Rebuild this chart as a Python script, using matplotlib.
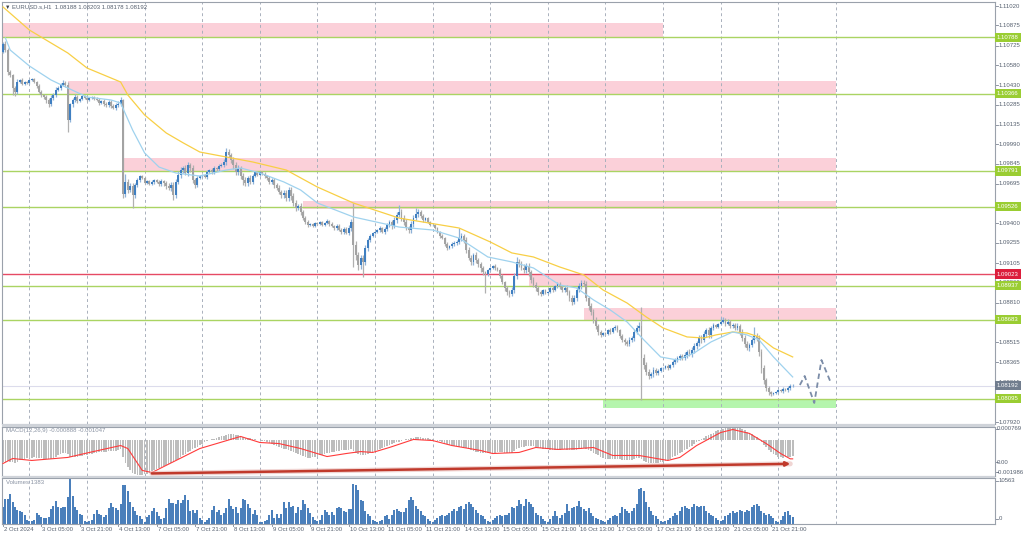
import matplotlib.pyplot as plt
from matplotlib.patches import Rectangle

plt.rcParams['font.family'] = ['Liberation Sans', 'DejaVu Sans']

# EURUSD.s H1, 2 Oct 13:00 .. 22 Oct 06:00 (330 bars)
# prices are given in points (1e-5) above 1.08000
open_first = 2677
close_pts = [
    2737, 2692, 2528, 2506, 2409, 2379, 2454, 2469, 2439, 2454, 2447,
    2469, 2476, 2454, 2424, 2379, 2357, 2342, 2320, 2290, 2335, 2357, 2394, 2409, 2431, 2446, 2431, 2171, 2290, 2320, 2342, 2312, 2327, 2349, 2335,
    2320, 2335, 2342, 2327, 2320, 2298, 2312, 2290, 2283, 2305, 2275, 2260, 2283, 2290, 2320, 1620, 1709, 1649, 1679, 1612, 1687, 1724, 1754, 1739,
    1701, 1716, 1694, 1709, 1724, 1709, 1694, 1716, 1701, 1679, 1664, 1687, 1612, 1709, 1761, 1798, 1813, 1776, 1836, 1813, 1724, 1687, 1739, 1754,
    1761, 1746, 1783, 1798, 1783, 1813, 1806, 1828, 1836, 1858, 1932, 1910, 1873, 1836, 1783, 1813, 1754, 1724, 1701, 1739, 1709, 1754, 1783, 1761,
    1783, 1768, 1754, 1739, 1709, 1724, 1687, 1664, 1634, 1612, 1627, 1590, 1649, 1605, 1552, 1515, 1530, 1485, 1441, 1411, 1388, 1396, 1381, 1403,
    1396, 1411, 1388, 1403, 1418, 1396, 1381, 1366, 1381, 1351, 1336, 1358, 1329, 1366, 1411, 1239, 1165, 1090, 1142, 1112, 1217, 1277, 1306, 1329,
    1336, 1351, 1366, 1336, 1358, 1388, 1411, 1381, 1426, 1463, 1485, 1441, 1411, 1366, 1351, 1396, 1441, 1470, 1485, 1456, 1426, 1441, 1411, 1388,
    1388, 1366, 1336, 1306, 1291, 1247, 1217, 1232, 1247, 1254, 1262, 1291, 1306, 1277, 1202, 1142, 1112, 1165, 1127, 1098, 1068, 1038, 1023, 1053,
    1068, 1083, 1068, 1053, 1008, 963, 919, 889, 874, 904, 1008, 1112, 1098, 1068, 1053, 1083, 1038, 978, 941, 919, 889, 874, 904, 882,
    889, 919, 904, 934, 949, 926, 904, 919, 889, 844, 814, 844, 904, 934, 956, 949, 844, 784, 740, 680, 635, 591, 568, 583,
    576, 606, 591, 621, 628, 606, 561, 531, 516, 501, 531, 546, 591, 621, 635, 397, 345, 293, 263, 278, 308, 286, 300, 323,
    323, 338, 323, 345, 367, 382, 397, 412, 397, 420, 442, 427, 457, 487, 509, 546, 531, 576, 606, 568, 621, 643, 628, 650,
    665, 680, 650, 665, 635, 643, 621, 635, 591, 546, 501, 472, 494, 531, 561, 546, 442, 323, 233, 174, 144, 129, 137, 144,
    159, 151, 166, 159, 174, 188, 192,
]
wick_up = [
    15, 20, 12, 18, 10, 15, 22, 10, 12, 8, 6,
    6, 8, 10, 8, 12, 15, 10, 12, 18, 25, 15, 20, 18, 12, 22, 15, 20, 10, 15, 20, 12, 10, 8, 6,
    6, 8, 10, 8, 12, 15, 10, 12, 15, 18, 12, 15, 12, 20, 25, 10, 60, 20, 25, 20, 15, 12, 10, 8,
    6, 8, 10, 12, 10, 8, 12, 15, 10, 15, 20, 18, 25, 20, 30, 25, 15, 20, 25, 15, 20, 15, 12, 8,
    8, 10, 12, 10, 15, 12, 10, 15, 12, 20, 30, 25, 15, 20, 25, 20, 15, 20, 25, 15, 20, 15, 10, 8,
    8, 10, 12, 10, 15, 12, 15, 12, 20, 15, 20, 25, 23, 20, 25, 20, 15, 20, 18, 15, 12, 10, 8, 6,
    6, 8, 10, 8, 12, 10, 12, 10, 12, 15, 12, 15, 12, 20, 25, 140, 30, 25, 20, 25, 20, 15, 12, 10,
    8, 10, 12, 10, 15, 12, 15, 12, 20, 25, 50, 20, 25, 20, 15, 20, 25, 45, 20, 15, 12, 10, 8, 6,
    6, 8, 10, 8, 12, 10, 12, 10, 15, 12, 15, 75, 20, 15, 20, 25, 20, 15, 20, 15, 12, 15, 10, 8,
    8, 10, 12, 10, 15, 12, 10, 15, 12, 20, 25, 38, 25, 20, 30, 25, 20, 15, 20, 25, 15, 12, 10, 8,
    8, 10, 12, 10, 15, 12, 15, 12, 20, 15, 20, 25, 20, 25, 20, 25, 20, 15, 20, 25, 20, 15, 12, 10,
    8, 10, 12, 10, 15, 12, 10, 15, 12, 15, 20, 15, 20, 25, 30, 143, 30, 25, 20, 15, 20, 15, 12, 10,
    8, 10, 12, 10, 15, 12, 15, 12, 15, 20, 15, 20, 25, 20, 15, 20, 25, 20, 15, 20, 15, 12, 10, 8,
    40, 20, 15, 20, 15, 12, 15, 20, 15, 20, 25, 20, 15, 15, 67, 25, 20, 25, 20, 15, 12, 10, 8, 6,
    8, 10, 12, 10, 15, 12, 11,
]
wick_dn = [
    10, 15, 20, 12, 55, 30, 12, 10, 8, 10, 6,
    6, 8, 10, 12, 10, 15, 12, 20, 22, 15, 12, 18, 10, 12, 10, 15, 90, 15, 20, 12, 15, 10, 8, 6,
    6, 8, 10, 8, 10, 12, 10, 12, 15, 12, 15, 10, 12, 15, 12, 30, 25, 20, 15, 97, 20, 15, 12, 8,
    6, 8, 10, 8, 12, 10, 12, 15, 20, 25, 18, 20, 37, 20, 15, 20, 25, 15, 20, 30, 25, 20, 12, 8,
    8, 10, 12, 10, 12, 15, 12, 15, 10, 12, 20, 18, 25, 30, 20, 25, 20, 40, 25, 20, 15, 12, 10, 8,
    8, 10, 12, 15, 12, 15, 20, 15, 18, 20, 25, 20, 25, 30, 20, 25, 18, 20, 15, 12, 15, 10, 8, 6,
    6, 8, 10, 8, 10, 12, 10, 15, 12, 10, 15, 12, 10, 15, 20, 164, 40, 35, 30, 111, 25, 20, 15, 10,
    8, 10, 12, 10, 12, 15, 12, 20, 15, 20, 18, 25, 20, 15, 20, 25, 20, 15, 20, 15, 12, 10, 8, 6,
    6, 8, 10, 12, 10, 15, 12, 10, 12, 15, 12, 15, 20, 25, 20, 15, 20, 25, 20, 25, 30, 20, 141, 15,
    8, 10, 12, 10, 12, 15, 20, 25, 20, 15, 20, 25, 20, 15, 20, 25, 30, 20, 15, 20, 25, 15, 10, 8,
    8, 10, 12, 10, 12, 15, 12, 15, 20, 25, 20, 15, 20, 15, 20, 15, 25, 30, 25, 20, 25, 20, 15, 10,
    8, 10, 12, 10, 12, 15, 12, 15, 20, 15, 12, 15, 20, 15, 20, 313, 30, 25, 20, 15, 20, 15, 12, 10,
    8, 10, 12, 10, 12, 15, 12, 15, 12, 15, 20, 15, 20, 25, 20, 25, 20, 15, 20, 25, 20, 15, 10, 8,
    8, 10, 12, 10, 12, 15, 12, 15, 20, 25, 20, 15, 20, 15, 20, 25, 30, 35, 30, 25, 20, 15, 10, 8,
    8, 10, 12, 10, 12, 15, 10,
]
volume = [
    3850, 5600, 5700, 6800, 4900, 3850, 3000, 2850, 2700, 1900, 820,
    650, 650, 700, 2300, 2050, 1400, 1250, 1250, 1500, 3300, 4100, 5100, 3700, 3500, 3700, 3850, 6000, 10563, 6300, 3850, 3000, 2200, 2050, 650,
    410, 570, 820, 2200, 3000, 2200, 2050, 1400, 2050, 3500, 4750, 3700, 3500, 3000, 4500, 8760, 8760, 7370, 4900, 3850, 2870, 2050, 1640, 1060,
    410, 1390, 2050, 2870, 3520, 2700, 1640, 1060, 1230, 3520, 5730, 4670, 4670, 4500, 5490, 4670, 5490, 6550, 5490, 2870, 3030, 2460, 3030, 1230,
    820, 410, 820, 1230, 3030, 4100, 2700, 3030, 1880, 2460, 3520, 5730, 4100, 3280, 3850, 2460, 3520, 5730, 5320, 4500, 3520, 2210, 3030, 1880,
    410, 410, 655, 820, 1880, 3030, 1230, 2210, 1230, 2210, 4910, 3520, 4910, 3690, 4100, 2460, 3690, 3030, 5320, 4500, 3500, 2300, 1500, 900,
    570, 820, 2050, 3030, 2700, 1880, 2700, 2050, 3520, 3850, 3520, 2870, 2700, 3280, 3300, 9000, 8760, 7780, 5320, 5160, 2870, 2210, 1640, 820,
    570, 410, 570, 820, 1640, 1880, 1060, 1880, 3030, 3280, 2870, 2700, 2700, 3520, 5490, 5980, 5490, 4100, 3400, 2870, 2050, 1640, 1060, 570,
    410, 820, 1230, 1640, 2050, 1640, 2050, 2460, 2870, 3280, 2870, 3690, 4100, 3280, 4500, 4900, 4500, 3690, 3030, 2460, 2050, 1640, 1060, 570,
    410, 820, 1230, 1640, 2050, 1640, 2050, 1880, 2460, 3850, 3520, 4100, 5320, 4500, 4100, 5730, 4900, 4500, 3690, 2460, 2050, 1640, 1060, 570,
    410, 1060, 1640, 2870, 1640, 1230, 2050, 2460, 4500, 2870, 3520, 3690, 4100, 5100, 3850, 3280, 2870, 3520, 2460, 1640, 1230, 1060, 820, 570,
    410, 820, 1230, 1640, 2050, 1640, 2460, 3850, 3280, 2870, 2460, 2870, 3520, 4500, 7900, 8200, 7400, 4900, 3690, 2870, 2050, 1640, 1060, 570,
    410, 570, 820, 1230, 1640, 2460, 2050, 2870, 3690, 4100, 3520, 3280, 3690, 4500, 4100, 3850, 4000, 4100, 2870, 2460, 2050, 1640, 1230, 820,
    570, 820, 1640, 2050, 2460, 2870, 2460, 2700, 3030, 2870, 2700, 3030, 2870, 3690, 4300, 4500, 4100, 2870, 2460, 2050, 2210, 1640, 1230, 570,
    410, 820, 1640, 2700, 2870, 2050, 1383,
]
# MACD(12,26,9) main value, units of 1e-5
macd_main = [
    -125, -120, -118, -122, -125, -128, -120, -112, -108, -105, -103,
    -100, -98, -97, -98, -100, -103, -105, -107, -108, -104, -98, -92, -86, -80, -74, -72, -78, -92, -96, -95, -92, -90, -88, -86,
    -84, -80, -76, -73, -70, -69, -67, -66, -65, -62, -62, -63, -60, -57, -52, -95, -128, -150, -168, -184, -192, -197, -198, -196,
    -192, -188, -182, -176, -170, -164, -157, -150, -144, -138, -132, -126, -123, -114, -104, -94, -86, -77, -68, -60, -52, -44, -36, -28,
    -20, -12, -6, 0, 5, 9, 13, 17, 21, 25, 30, 32, 33, 33, 31, 28, 25, 20, 15, 12, 10, 8, 5, 3,
    0, -3, -7, -11, -16, -20, -25, -30, -36, -42, -47, -52, -56, -60, -66, -72, -78, -84, -90, -95, -98, -99, -97, -94,
    -90, -86, -82, -78, -74, -70, -67, -64, -62, -60, -58, -56, -55, -54, -52, -60, -70, -80, -84, -86, -83, -78, -72, -66,
    -60, -54, -48, -43, -38, -33, -28, -23, -18, -13, -8, -4, 0, 4, 8, 11, 14, 16, 17, 16, 14, 12, 10, 8,
    5, 2, -2, -6, -10, -15, -20, -25, -29, -32, -35, -36, -37, -40, -45, -52, -58, -62, -65, -68, -70, -72, -74, -74,
    -73, -72, -70, -68, -68, -69, -70, -71, -72, -70, -62, -52, -45, -40, -36, -33, -31, -31, -33, -36, -40, -44, -48, -50,
    -52, -53, -54, -54, -54, -53, -52, -52, -53, -56, -58, -58, -55, -52, -48, -45, -50, -56, -63, -70, -78, -86, -93, -98,
    -102, -104, -105, -106, -106, -106, -108, -110, -112, -113, -112, -110, -106, -102, -98, -108, -116, -122, -126, -128, -128, -127, -126, -124,
    -120, -115, -110, -104, -97, -90, -82, -74, -66, -57, -48, -40, -31, -22, -13, -4, 5, 13, 21, 29, 36, 43, 49, 55,
    60, 65, 69, 72, 75, 77, 76, 74, 70, 64, 56, 48, 40, 32, 24, 16, 5, -10, -25, -40, -55, -68, -78, -86,
    -92, -96, -98, -97, -95, -92, -89,
]
signal_bar = [0, 4, 12, 27, 36, 49, 52, 58, 62, 82, 99, 107, 115, 124, 135, 143, 149, 154, 161, 171, 179, 187, 199,
              204, 215, 222, 231, 240, 246, 254, 265, 277, 282, 289, 299, 304, 311, 318, 324, 328, 329]
signal_val = [-131, -103, -114, -97, -69, -30, -47, -170, -182, -47, 21, -13, -19, -47, -92, -75, -64, -69, -41, 4, -2, -30, -58,
              -75, -69, -41, -52, -47, -41, -86, -86, -114, -97, -30, 43, 60, 38, -19, -75, -105, -105]
# moving averages on the price chart (bar, points)
ma_slow_bar = [0, 11, 27, 35, 49, 52, 59, 68, 75, 82, 93, 104, 118, 131, 146, 165, 190, 203, 212, 221, 232, 242,
               250, 260, 268, 275, 285, 292, 297, 304, 310, 315, 321, 329]
ma_slow_val = [3013, 2841, 2670, 2558, 2454, 2357, 2208, 2074, 2001, 1932, 1895, 1858, 1798, 1671, 1552, 1440, 1366,
               1262, 1180, 1150, 1075, 1016, 904, 807, 703, 621, 554, 546, 569, 591, 583, 554, 472, 405]
ma_fast_bar = [1, 3, 11, 20, 27, 35, 45, 49, 54, 59, 65, 72, 82, 93, 99, 107, 117, 124, 131, 146, 165, 179, 190, 202,
               212, 221, 232, 239, 246, 253, 260, 267, 274, 281, 288, 295, 304, 310, 315, 321, 329]
ma_fast_val = [2782, 2692, 2573, 2469, 2409, 2342, 2320, 2297, 2096, 1925, 1820, 1776, 1753, 1798, 1813, 1776, 1709,
               1649, 1552, 1448, 1373, 1351, 1291, 1150, 1113, 1068, 941, 919, 830, 755, 666, 532, 405, 382, 435, 517,
               591, 569, 532, 405, 256]
forecast_bar = [332, 334, 338, 341, 344.6]
forecast_val = [196, 263, 62, 382, 226]

green_levels = [1.10788, 1.10366, 1.09791, 1.09526, 1.08937, 1.08683, 1.08095]
red_level = 1.09023
bid = 1.08192
# (from bar, to bar, low, high)
pink_zones = [(0, 275, 1.10788, 1.10896), (27, 347, 1.10366, 1.10461), (50, 347, 1.09791, 1.09890),
              (125, 347, 1.09505, 1.09567), (219, 347, 1.08937, 1.09023), (242, 347, 1.08683, 1.08768)]
green_zone = (250, 347, 1.08028, 1.08095)
div_line = [(62, -187), (328, -133)]

price_ticks = ['1.11020', '1.10875', '1.10725', '1.10580', '1.10430', '1.10285', '1.10135', '1.09990', '1.09845',
               '1.09695', '1.09400', '1.09255', '1.09105', '1.08960', '1.08810', '1.08515',
               '1.08365', '1.08215', '1.08070', '1.07920']
day_lines = [11, 35, 59, 83, 107, 131, 155, 179, 203, 227, 251, 275, 299, 323, 347]
date_labels = ['2 Oct 2024', '3 Oct 05:00', '3 Oct 21:00', '4 Oct 13:00', '7 Oct 05:00', '7 Oct 21:00',
               '8 Oct 13:00', '9 Oct 05:00', '9 Oct 21:00', '10 Oct 13:00', '11 Oct 05:00', '11 Oct 21:00',
               '14 Oct 13:00', '15 Oct 05:00', '15 Oct 21:00', '16 Oct 13:00', '17 Oct 05:00', '17 Oct 21:00',
               '18 Oct 13:00', '21 Oct 05:00', '21 Oct 21:00']

W, H = 1024, 537
fig = plt.figure(figsize=(W / 100, H / 100), dpi=100)
fig.patch.set_facecolor('white')


def px_axes(x0, y0, x1, y1):
    return fig.add_axes([x0 / W, 1 - y1 / H, (x1 - x0) / W, (y1 - y0) / H])


def price(v):
    return 1.08 + v * 1e-5


TXT = '#56606f'
FS = 4.3
GRID = '#a9b0bc'
XL = (-0.42, 413.3)

ax = px_axes(2, 2, 995, 423.5)
ax_m = px_axes(2, 426.5, 995, 475.5)
ax_v = px_axes(2, 477.5, 995, 523.5)
for a in (ax, ax_m, ax_v):
    a.set_xlim(*XL)
    a.set_xticks([])
    a.set_yticks([])
    for s in a.spines.values():
        s.set_color('#9aa1ab')
        s.set_linewidth(0.8)
    for b in day_lines:
        a.axvline(b, color=GRID, lw=0.7, ls=(0, (3, 3)), zorder=1)

# separators between panels
for y0, y1 in [(423.5, 426.5), (475.5, 477.5)]:
    fig.patches.append(Rectangle((2 / W, 1 - y1 / H), 993 / W, (y1 - y0) / H,
                                 transform=fig.transFigure, fc='#cfd3d9', ec='none'))

# ---- price panel ----
ax.set_ylim(1.07909, 1.11050)
for b0, b1, lo, hi in pink_zones:
    ax.add_patch(Rectangle((b0, lo), b1 - b0, hi - lo, fc='#fbd0d9', ec='none', zorder=0.5))
b0, b1, lo, hi = green_zone
ax.add_patch(Rectangle((b0, lo), b1 - b0, hi - lo, fc='#b5f5ad', ec='none', zorder=0.5))
for lv in green_levels:
    ax.axhline(lv, color='#aad463', lw=1.0, zorder=2)
ax.axhline(red_level, color='#e64a64', lw=1.0, zorder=2)
ax.axhline(bid, color='#dcdcec', lw=0.8, zorder=1.5)

n = len(close_pts)
opens = [open_first] + close_pts[:-1]
xs = list(range(n))
highs, lows, bottoms, heights, bcol, wcol = [], [], [], [], [], []
for i in range(n):
    o, c = opens[i], close_pts[i]
    top, bot = max(o, c), min(o, c)
    highs.append(price(top + wick_up[i]))
    lows.append(price(bot - wick_dn[i]))
    bottoms.append(price(bot))
    heights.append(max(top - bot, 3) * 1e-5)
    bull = c >= o
    bcol.append('#3f7fc1' if bull else '#a3a3a3')
    wcol.append('#8fb2d8' if bull else '#b0b0b0')
ax.vlines(xs, lows, highs, colors=wcol, lw=0.9, zorder=3)
ax.bar(xs, heights, bottom=bottoms, width=0.78, color=bcol, lw=0, zorder=4)

ax.plot(ma_slow_bar, [price(v) for v in ma_slow_val], color='#f8cf45', lw=0.9, zorder=5)
ax.plot(ma_fast_bar, [price(v) for v in ma_fast_val], color='#9fd2ee', lw=0.9, zorder=5)
ax.plot(forecast_bar, [price(v) for v in forecast_val], color='#7c8da8', lw=1.3, ls=(0, (3, 2)), zorder=6)

ytr = ax.get_yaxis_transform()
for t in price_ticks:
    p = float(t)
    ax.plot([1.0, 1.003], [p, p], color='#7d8594', lw=0.6, transform=ytr, clip_on=False)
    ax.text(1.004, p, t, transform=ytr, fontsize=FS, color=TXT, va='center', ha='left')
tags = [(lv, '#9acd32') for lv in green_levels] + [(red_level, '#dc1e3c'), (bid, '#717d8e')]
for p, col in tags:
    ax.text(1.0018, p, '%.5f' % p, transform=ytr, fontsize=FS, color='white', va='center', ha='left',
            bbox=dict(boxstyle='square,pad=0.35', fc=col, ec='none'), zorder=10)

fig.text(5 / W, 1 - 7 / H, '\u25bc', fontsize=4, color='#3a3f48', va='center')
fig.text(12 / W, 1 - 7 / H, 'EURUSD.s,H1  1.08188 1.08203 1.08178 1.08192', fontsize=FS, color=TXT, va='center')

# ---- MACD panel ----
ax_m.set_ylim(-198.6e-5, 76.9e-5)
ax_m.bar(xs, [v * 1e-5 for v in macd_main], width=0.7, color='#bdbdbd', lw=0, zorder=2)
ax_m.plot(signal_bar, [v * 1e-5 for v in signal_val], color='#ff3b3b', lw=0.8, zorder=3)
(d0, v0), (d1, v1) = div_line
ax_m.plot([d0, d1], [v0 * 1e-5, v1 * 1e-5], color='#e7b9b6', lw=3.6, alpha=0.6, zorder=3, solid_capstyle='round')
ax_m.annotate('', xy=(d1, v1 * 1e-5), xytext=(d0, v0 * 1e-5),
              arrowprops=dict(arrowstyle='-|>', color='#c0392b', lw=1.8, mutation_scale=6, shrinkA=0, shrinkB=0),
              zorder=4)
ax_m.text(0.004, 0.92, 'MACD(12,26,9) -0.000888 -0.001047', transform=ax_m.transAxes,
          fontsize=FS, color='#8a93a3', va='center')
mtr = ax_m.transAxes
for yy, t in [(0.949, '0.000769'), (0.275, '0.00'), (0.071, '-0.001986')]:
    ax_m.plot([1.0, 1.003], [yy, yy], color='#7d8594', lw=0.6, transform=mtr, clip_on=False)
    ax_m.text(1.0015, yy, t, transform=mtr, fontsize=FS, color=TXT, va='center')

# ---- Volume panel ----
ax_v.set_ylim(0, 10563)
ax_v.bar(xs, volume, width=0.82, color='#4a7fbb', lw=0, zorder=2)
ax_v.text(0.004, 0.9, 'Volumes 1383', transform=ax_v.transAxes, fontsize=FS, color='#8a93a3', va='center')
vtr = ax_v.transAxes
for yy, t in [(0.924, '10563'), (0.098, '0')]:
    ax_v.plot([1.0, 1.003], [yy, yy], color='#7d8594', lw=0.6, transform=vtr, clip_on=False)
    ax_v.text(1.004, yy, t, transform=vtr, fontsize=FS, color=TXT, va='center')

xtr = ax_v.get_xaxis_transform()
for k, lab in enumerate(date_labels):
    b = 16 * k
    ax_v.plot([b, b], [0, -0.06], color='#7d8594', lw=0.6, transform=xtr, clip_on=False)
    ax_v.text(b + 0.4, -0.13, lab, transform=xtr, fontsize=FS, color=TXT, va='center', ha='left')

fig.savefig('out.png', dpi=100, facecolor='white')
